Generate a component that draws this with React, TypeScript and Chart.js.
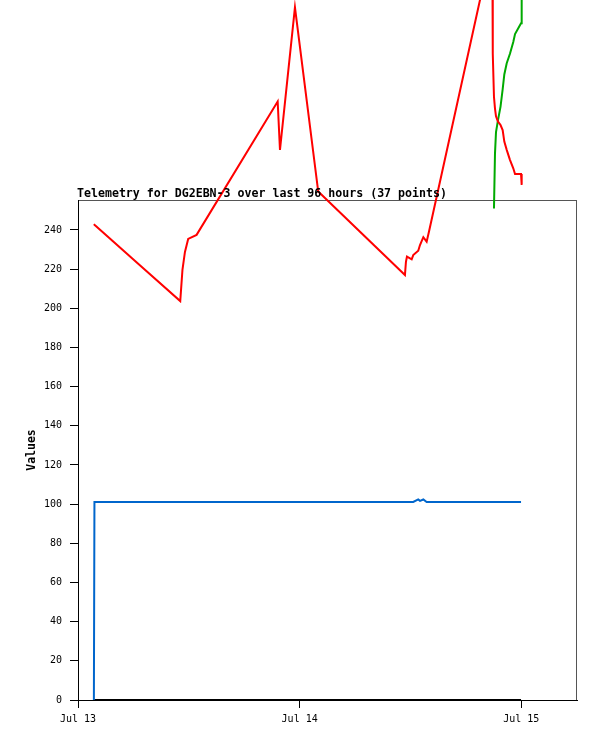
import { useEffect, useRef } from "react";
import { Chart, registerables } from "chart.js";

Chart.register(...registerables);

// hours since Jul 13 00:00
const hours = [
  1.72, 1.78, 6.7, 11.07, 11.31, 11.58, 11.93, 12.84, 21.62, 21.87, 23.49, 26.01,
  35.4, 35.51, 35.62, 36.13, 36.3, 36.84, 37.03, 37.39, 37.75, 38.0, 44.86, 44.91,
  45.04, 45.15, 45.26, 45.48, 45.75, 45.98, 46.16, 46.42, 46.77, 47.13, 47.32, 47.97, 48.04,
];

const redValues = [
  243.0, 242.7, 222.0, 203.7, 219.6, 228.8, 235.4, 237.5, 305.6, 280.9, 353.7, 259.6,
  217.0, 223.8, 226.4, 225.0, 227.2, 229.4, 232.3, 236.3, 234.0, 239.1, 386.0, 330.0,
  308.0, 302.0, 298.0, 295.3, 293.6, 291.0, 285.1, 280.9, 275.8, 271.5, 268.6, 268.6, 263.0,
];

const greenValues: (number | null)[] = [
  null, null, null, null, null, null, null, null, null, null, null, null,
  null, null, null, null, null, null, null, null, null, null, null, null,
  251.0, 279.0, 290.0, 296.2, 303.0, 311.8, 319.4, 325.1, 330.0, 336.0, 340.0, 345.6, 380.0,
];

const blueValues = [
  0, 101.1, 101.1, 101.1, 101.1, 101.1, 101.1, 101.1, 101.1, 101.1, 101.1, 101.1,
  101.1, 101.1, 101.1, 101.1, 101.1, 102.4, 101.7, 102.4, 101.1, 101.1, 101.1, 101.1,
  101.1, 101.1, 101.1, 101.1, 101.1, 101.1, 101.1, 101.1, 101.1, 101.1, 101.1, 101.1, 101.1,
];

const blackValues = [
  0, 0, 0, 0, 0, 0, 0, 0, 0, 0, 0, 0,
  0, 0, 0, 0, 0, 0, 0, 0, 0, 0, 0, 0,
  0, 0, 0, 0, 0, 0, 0, 0, 0, 0, 0, 0, 0,
];

const dayTicks = [0, 24, 48];
const dayLabels = ["Jul 13", "Jul 14", "Jul 15"];
const yTicks = [0, 20, 40, 60, 80, 100, 120, 140, 160, 180, 200, 220, 240];
const chartTitle = "Telemetry for DG2EBN-3 over last 96 hours (37 points)";
const yAxisTitle = "Values";

const toPoints = (vals: (number | null)[]) => hours.map((h, i) => ({ x: h, y: vals[i] }));

const framePlugin = {
  id: "frame",
  beforeDraw(chart: any) {
    const { ctx, chartArea } = chart;
    ctx.save();
    ctx.fillStyle = "#ffffff";
    ctx.fillRect(0, 0, chart.width, chart.height);
    ctx.strokeStyle = "#555555";
    ctx.lineWidth = 1;
    ctx.strokeRect(
      chartArea.left + 0.5,
      chartArea.top + 0.5,
      chartArea.right - chartArea.left - 1,
      chartArea.bottom - chartArea.top
    );
    ctx.restore();
  },
  afterDraw(chart: any) {
    const { ctx, chartArea } = chart;
    ctx.save();
    ctx.fillStyle = "#000000";
    ctx.font = "bold 11.6px 'DejaVu Sans Mono'";
    ctx.textAlign = "left";
    ctx.textBaseline = "alphabetic";
    ctx.fillText(chartTitle, chartArea.left - 1, chartArea.top - 3);
    ctx.translate(35, (chartArea.top + chartArea.bottom) / 2);
    ctx.rotate(-Math.PI / 2);
    ctx.textAlign = "center";
    ctx.font = "bold 11.5px 'DejaVu Sans Mono'";
    ctx.fillText(yAxisTitle, 0, 0);
    ctx.restore();
  },
};

export default function App() {
  const ref = useRef<HTMLCanvasElement | null>(null);
  useEffect(() => {
    if (!ref.current) return;
    const common = {
      pointRadius: 0,
      pointHoverRadius: 0,
      tension: 0,
      fill: false,
      clip: false as const,
      spanGaps: false,
    };
    const chart = new Chart(ref.current, {
      type: "line",
      data: {
        datasets: [
          { ...common, label: "red", data: toPoints(redValues), borderColor: "#ff0000", borderWidth: 2 },
          { ...common, label: "green", data: toPoints(greenValues), borderColor: "#00aa00", borderWidth: 2 },
          { ...common, label: "blue", data: toPoints(blueValues), borderColor: "#0066cc", borderWidth: 2 },
          { ...common, label: "black", data: toPoints(blackValues), borderColor: "#000000", borderWidth: 2 },
        ] as any,
      },
      options: {
        animation: false,
        responsive: false,
        devicePixelRatio: 1,
        events: [],
        layout: { padding: { top: 200, right: 20, left: 0, bottom: 0 } },
        plugins: {
          legend: { display: false },
          title: { display: false },
          tooltip: { enabled: false },
        },
        scales: {
          x: {
            type: "linear",
            position: "bottom",
            min: 0,
            max: 54.03,
            afterFit: (s: any) => {
              s.height = 41;
            },
            afterBuildTicks: (s: any) => {
              s.ticks = dayTicks.map((v) => ({ value: v }));
            },
            grid: { display: true, drawOnChartArea: false, drawTicks: true, tickLength: 8, color: "#000000", lineWidth: 1 },
            border: { display: true, color: "#000000", width: 1 },
            ticks: {
              color: "#000000",
              font: { family: "DejaVu Sans Mono", size: 10 },
              padding: 5,
              maxRotation: 0,
              autoSkip: false,
              callback: (v: any) => dayLabels[dayTicks.indexOf(Number(v))] ?? "",
            },
          },
          y: {
            type: "linear",
            min: 0,
            max: 255.3,
            afterFit: (s: any) => {
              s.width = 78;
            },
            afterBuildTicks: (s: any) => {
              s.ticks = yTicks.map((v) => ({ value: v }));
            },
            grid: { display: true, drawOnChartArea: false, drawTicks: true, tickLength: 8, color: "#000000", lineWidth: 1 },
            border: { display: true, color: "#000000", width: 1 },
            ticks: {
              color: "#000000",
              font: { family: "DejaVu Sans Mono", size: 10 },
              padding: 8,
              autoSkip: false,
              callback: (v: any) => String(v),
            },
          },
        },
      },
      plugins: [framePlugin],
    });
    return () => chart.destroy();
  }, []);
  return (
    <canvas
      ref={ref}
      width={597}
      height={741}
      style={{ position: "absolute", left: 0, top: 0, width: 597, height: 741 }}
    />
  );
}
